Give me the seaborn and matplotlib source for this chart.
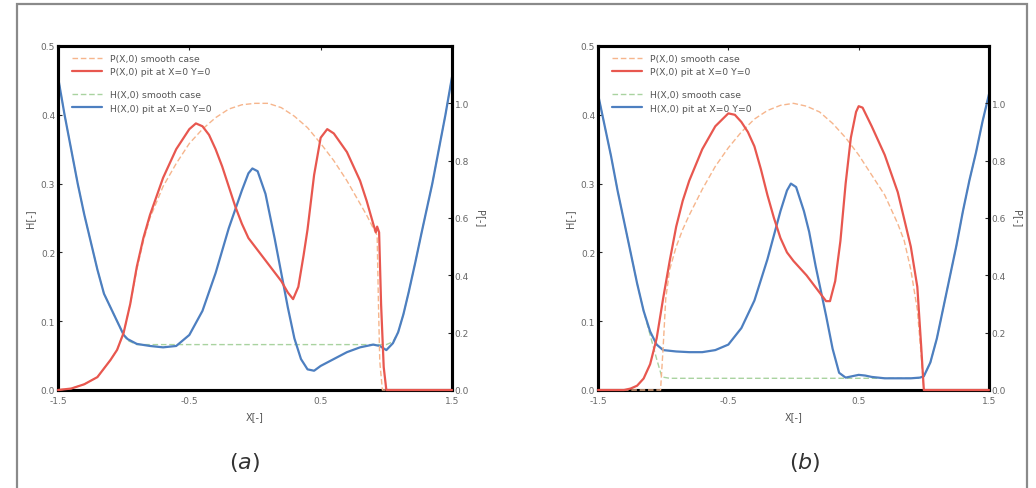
import numpy as np
import pandas as pd
import matplotlib
matplotlib.use("Agg")
import matplotlib.pyplot as plt
import seaborn as sns
from matplotlib.patches import Rectangle

# ---- panel (a) values ----
a_hpit_x = [-1.5, -1.45, -1.4, -1.35, -1.3, -1.25, -1.2, -1.15, -1.1, -1.05, -1.0, -0.97, -0.9, -0.8,
            -0.7, -0.6, -0.5, -0.4, -0.3, -0.2, -0.1, -0.05, -0.02, 0.02, 0.08, 0.15, 0.2, 0.25, 0.3,
            0.35, 0.4, 0.45, 0.5, 0.6, 0.7, 0.8, 0.9, 0.95, 1.0, 1.05, 1.09, 1.13, 1.17, 1.22, 1.27,
            1.31, 1.35, 1.4, 1.45, 1.5]
a_hpit_y = [0.455, 0.40, 0.35, 0.30, 0.255, 0.215, 0.175, 0.14, 0.12, 0.10, 0.08, 0.074, 0.067, 0.064,
            0.062, 0.064, 0.08, 0.115, 0.17, 0.235, 0.29, 0.315, 0.322, 0.318, 0.285, 0.22, 0.17, 0.12,
            0.075, 0.045, 0.03, 0.028, 0.035, 0.045, 0.055, 0.062, 0.066, 0.064, 0.058, 0.068, 0.084,
            0.11, 0.142, 0.185, 0.23, 0.265, 0.30, 0.35, 0.40, 0.455]
a_hsm_x = [-1.5, -1.45, -1.4, -1.35, -1.3, -1.25, -1.2, -1.15, -1.1, -1.05, -1.0, -0.97, -0.9,
           0.95, 1.0, 1.05, 1.09, 1.13, 1.17, 1.22, 1.27, 1.31, 1.35, 1.4, 1.45, 1.5]
a_hsm_y = [0.455, 0.40, 0.35, 0.30, 0.255, 0.215, 0.175, 0.14, 0.12, 0.10, 0.08, 0.072, 0.066,
           0.066, 0.066, 0.07, 0.084, 0.11, 0.142, 0.185, 0.23, 0.265, 0.30, 0.35, 0.40, 0.455]
a_psm_x = [-1.5, -1.4, -1.3, -1.2, -1.1, -1.05, -1.0, -0.95, -0.9, -0.85, -0.8, -0.7, -0.6, -0.5,
           -0.4, -0.3, -0.2, -0.1, 0.0, 0.1, 0.2, 0.3, 0.4, 0.5, 0.6, 0.7, 0.8, 0.85, 0.9, 0.93,
           0.94, 0.95, 0.97, 1.5]
a_psm_y = [0.0, 0.005, 0.02, 0.045, 0.105, 0.14, 0.2, 0.3, 0.42, 0.52, 0.6, 0.71, 0.79, 0.86,
           0.91, 0.95, 0.98, 0.995, 1.0, 1.0, 0.985, 0.955, 0.915, 0.86, 0.8, 0.73, 0.65, 0.61,
           0.565, 0.54, 0.3, 0.1, 0.0, 0.0]
a_ppit_x = [-1.5, -1.4, -1.3, -1.2, -1.1, -1.05, -1.0, -0.95, -0.9, -0.85, -0.8, -0.7, -0.6, -0.5,
            -0.45, -0.4, -0.35, -0.3, -0.25, -0.2, -0.15, -0.1, -0.05, 0.0, 0.1, 0.2, 0.25, 0.29,
            0.33, 0.37, 0.4, 0.45, 0.5, 0.55, 0.6, 0.7, 0.8, 0.85, 0.9, 0.92, 0.93, 0.945, 0.96,
            0.98, 1.0, 1.5]
a_ppit_y = [0.0, 0.005, 0.02, 0.045, 0.105, 0.14, 0.2, 0.3, 0.43, 0.53, 0.61, 0.74, 0.84, 0.91,
            0.93, 0.92, 0.89, 0.84, 0.78, 0.71, 0.64, 0.58, 0.53, 0.5, 0.44, 0.38, 0.34, 0.317,
            0.36, 0.47, 0.56, 0.75, 0.88, 0.91, 0.895, 0.83, 0.73, 0.66, 0.58, 0.55, 0.57, 0.55,
            0.3, 0.08, 0.0, 0.0]

# ---- panel (b) values ----
b_hpit_x = [-1.5, -1.45, -1.4, -1.35, -1.3, -1.25, -1.2, -1.15, -1.1, -1.05, -1.0, -0.9, -0.8, -0.7,
            -0.6, -0.5, -0.4, -0.3, -0.2, -0.1, -0.05, -0.02, 0.02, 0.08, 0.12, 0.17, 0.25, 0.3,
            0.35, 0.4, 0.45, 0.5, 0.55, 0.6, 0.7, 0.8, 0.9, 0.97, 1.0, 1.05, 1.1, 1.15, 1.2, 1.25,
            1.3, 1.35, 1.4, 1.45, 1.5]
b_hpit_y = [0.43, 0.385, 0.34, 0.29, 0.245, 0.2, 0.155, 0.115, 0.085, 0.066, 0.058, 0.056, 0.055,
            0.055, 0.058, 0.066, 0.09, 0.13, 0.19, 0.26, 0.29, 0.30, 0.295, 0.26, 0.23, 0.18, 0.108,
            0.06, 0.025, 0.018, 0.02, 0.022, 0.021, 0.019, 0.017, 0.017, 0.017, 0.018, 0.02, 0.04,
            0.075, 0.12, 0.165, 0.21, 0.26, 0.305, 0.345, 0.39, 0.43]
b_hsm_x = [-1.5, -1.45, -1.4, -1.35, -1.3, -1.25, -1.2, -1.15, -1.1, -1.05, -1.01, -0.95, 0.97,
           1.0, 1.05, 1.1, 1.15, 1.2, 1.25, 1.3, 1.35, 1.4, 1.45, 1.5]
b_hsm_y = [0.43, 0.385, 0.34, 0.29, 0.245, 0.2, 0.155, 0.115, 0.08, 0.045, 0.019, 0.017, 0.017,
           0.02, 0.04, 0.075, 0.12, 0.165, 0.21, 0.26, 0.305, 0.345, 0.39, 0.43]
b_psm_x = [-1.5, -1.02, -1.0, -0.98, -0.95, -0.9, -0.85, -0.8, -0.7, -0.6, -0.5, -0.4, -0.3, -0.2,
           -0.1, 0.0, 0.1, 0.2, 0.3, 0.4, 0.5, 0.6, 0.7, 0.8, 0.85, 0.9, 0.95, 0.98, 1.0, 1.5]
b_psm_y = [0.0, 0.0, 0.15, 0.32, 0.42, 0.5, 0.56, 0.61, 0.7, 0.78, 0.845, 0.9, 0.945, 0.975, 0.993,
           1.0, 0.99, 0.97, 0.93, 0.88, 0.82, 0.75, 0.68, 0.58, 0.52, 0.42, 0.28, 0.12, 0.0, 0.0]
b_ppit_x = [-1.5, -1.3, -1.25, -1.2, -1.15, -1.1, -1.05, -1.0, -0.95, -0.9, -0.85, -0.8, -0.7, -0.6,
            -0.5, -0.45, -0.4, -0.35, -0.3, -0.25, -0.2, -0.15, -0.1, -0.05, 0.0, 0.1, 0.2, 0.25,
            0.28, 0.32, 0.36, 0.4, 0.44, 0.48, 0.5, 0.53, 0.6, 0.7, 0.8, 0.9, 0.95, 0.98, 1.0, 1.5]
b_ppit_y = [0.0, 0.0, 0.005, 0.015, 0.04, 0.09, 0.18, 0.32, 0.45, 0.57, 0.66, 0.73, 0.84, 0.92,
            0.965, 0.96, 0.935, 0.9, 0.85, 0.77, 0.68, 0.6, 0.53, 0.48, 0.45, 0.4, 0.34, 0.31,
            0.31, 0.38, 0.52, 0.72, 0.88, 0.97, 0.99, 0.985, 0.92, 0.82, 0.69, 0.5, 0.36, 0.15,
            0.0, 0.0]

labels = ["P(X,0) smooth case", "P(X,0) pit at X=0 Y=0",
          "H(X,0) smooth case", "H(X,0) pit at X=0 Y=0"]
panel_tags = ["($a$)", "($b$)"]

c_psm = "#f6b58c"
c_ppit = "#e8574f"
c_hsm = "#a9d3a0"
c_hpit = "#4d7fc0"

sns.set_style("white")
plt.rcParams["axes.unicode_minus"] = False
plt.rcParams["font.family"] = ["DejaVu Sans"]

fig = plt.figure(figsize=(10.36, 4.89), dpi=100)
fig.patches.append(Rectangle((17 / 1036, -0.05), 1010 / 1036, 1.05 - 5 / 489, transform=fig.transFigure,
                             fill=False, edgecolor="#8a8a8a", linewidth=1.6))

panels = [
    (a_hpit_x, a_hpit_y, a_hsm_x, a_hsm_y, a_psm_x, a_psm_y, a_ppit_x, a_ppit_y),
    (b_hpit_x, b_hpit_y, b_hsm_x, b_hsm_y, b_psm_x, b_psm_y, b_ppit_x, b_ppit_y),
]
lefts = [58 / 1036, 598 / 1036]
widths = [394 / 1036, 391 / 1036]
tag_x = [245 / 1036, 805 / 1036]

for i, (hpx, hpy, hsx, hsy, psx, psy, ppx, ppy) in enumerate(panels):
    ax = fig.add_axes([lefts[i], 98 / 489, widths[i], 344 / 489])
    ax2 = ax.twinx()

    sns.lineplot(x=hsx, y=hsy, ax=ax, color=c_hsm, lw=1.0, linestyle=(0, (4, 2)),
                 sort=False, estimator=None, label=labels[2])
    sns.lineplot(x=hpx, y=hpy, ax=ax, color=c_hpit, lw=1.6, sort=False, estimator=None,
                 label=labels[3])
    sns.lineplot(x=psx, y=psy, ax=ax2, color=c_psm, lw=1.0, linestyle=(0, (4, 2)),
                 sort=False, estimator=None, label=labels[0])
    sns.lineplot(x=ppx, y=ppy, ax=ax2, color=c_ppit, lw=1.6, sort=False, estimator=None,
                 label=labels[1])
    for ln in ax2.get_lines():
        ln.set_clip_on(False)
        ln.set_zorder(3)

    ax.set_xlim(-1.5, 1.5)
    ax.set_ylim(0, 0.5)
    ax2.set_ylim(0, 1.2)
    ax.set_xticks([-1.5, -0.5, 0.5, 1.5])
    ax.set_yticks([0.0, 0.1, 0.2, 0.3, 0.4, 0.5])
    ax2.set_yticks([0.0, 0.2, 0.4, 0.6, 0.8, 1.0])
    ax.set_xticklabels(["-1.5", "-0.5", "0.5", "1.5"])
    ax.set_yticklabels(["0.0", "0.1", "0.2", "0.3", "0.4", "0.5"])
    ax2.set_yticklabels(["0.0", "0.2", "0.4", "0.6", "0.8", "1.0"])

    for a in (ax, ax2):
        for s in a.spines.values():
            s.set_color("black")
            s.set_linewidth(2.2)
        a.tick_params(direction="in", length=3, width=0.8, labelsize=6.5,
                      labelcolor="#666666", pad=2)
    ax.tick_params(axis="x", top=True, pad=4)

    ax.set_xlabel("X[-]", fontsize=7, color="#555555", labelpad=5)
    ax.set_ylabel("H[-]", fontsize=7, color="#555555", labelpad=4)
    ax2.set_ylabel("P[-]", fontsize=7, color="#555555", labelpad=4, rotation=270, va="bottom")

    h_handles, h_labels = ax.get_legend_handles_labels()
    p_handles, p_labels = ax2.get_legend_handles_labels()
    ax.get_legend().remove()
    leg_p = ax2.legend(p_handles, p_labels, loc="upper left", bbox_to_anchor=(0.02, 0.995),
                       frameon=False, fontsize=6.7, handlelength=3.2, labelspacing=0.45,
                       handletextpad=0.8, borderaxespad=0.3)
    for t in leg_p.get_texts():
        t.set_color("#555555")
    leg_h = ax2.legend(h_handles, h_labels, loc="upper left", bbox_to_anchor=(0.02, 0.89),
                       frameon=False, fontsize=6.7, handlelength=3.2, labelspacing=0.45,
                       handletextpad=0.8, borderaxespad=0.3)
    for t in leg_h.get_texts():
        t.set_color("#555555")
    ax2.add_artist(leg_p)

    fig.text(tag_x[i], 26 / 489, panel_tags[i], fontsize=16, color="#333333",
             ha="center", va="center")

fig.savefig("out.png", dpi=100)
